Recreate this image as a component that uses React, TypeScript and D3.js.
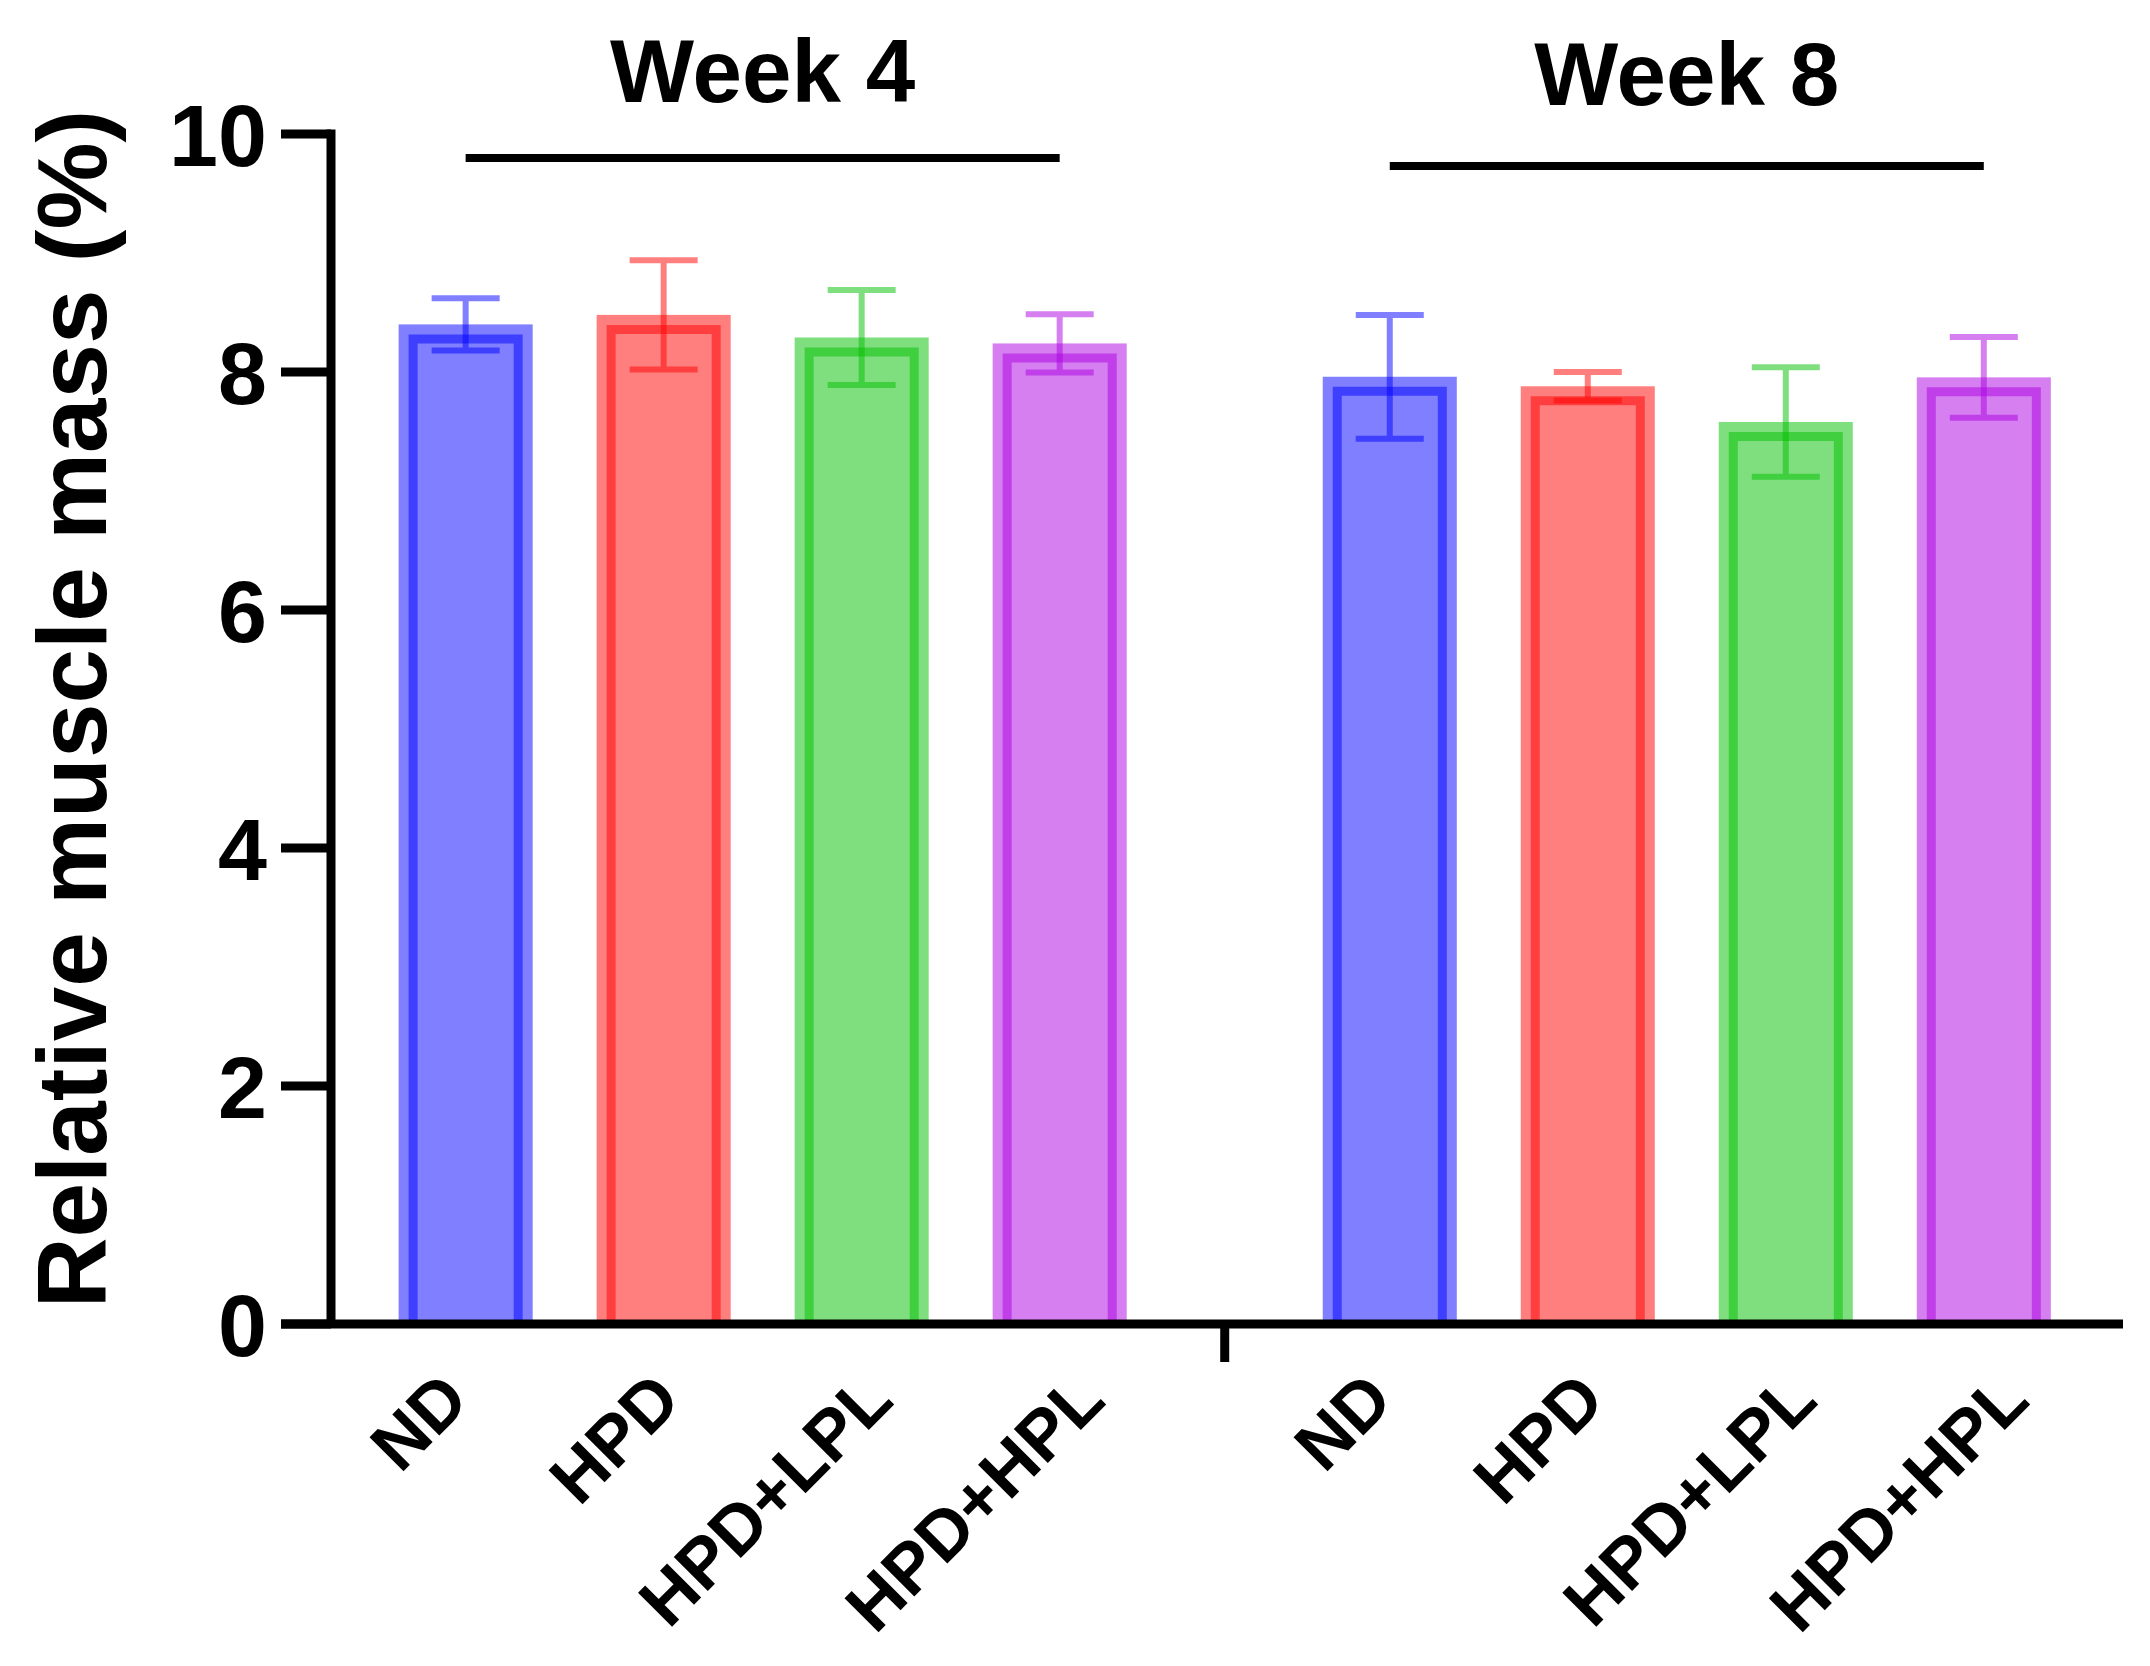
import * as d3 from "d3";
import { useEffect } from "react";

// values
const groups = ["Week 4", "Week 8"];
const categories = ["ND", "HPD", "HPD+LPL", "HPD+HPL"];
const week4Mean = [8.4, 8.48, 8.29, 8.24];
const week4SD = [0.22, 0.46, 0.4, 0.245];
const week8Mean = [7.96, 7.88, 7.58, 7.955];
const week8SD = [0.52, 0.12, 0.46, 0.34];
const yTicks = [0, 2, 4, 6, 8, 10];
const baseColors = ["#0000ff", "#ff0000", "#00c000", "#ab00e1"];

const W = 2150;
const H = 1666;
const FONT = "'Liberation Sans', Arial, Helvetica, sans-serif";

export default function App() {
  useEffect(() => {
    document.body.style.margin = "0";
  }, []);

  const gap = 1.667; // distance (in bar slots) between last bar of week 4 and first of week 8
  const x = d3.scaleLinear().domain([-0.68, 8.37]).range([331, 2123]);
  const y = d3.scaleLinear().domain([0, 10]).range([1324, 134]);

  const slot = x(1) - x(0);
  const barW = slot * 0.677;
  const band = 10; // pale outer band
  const sw = 9; // darker inner border
  const capW = 68;

  const series = [
    { name: groups[0], mean: week4Mean, sd: week4SD, offset: 0, lineY: 158, textY: 102 },
    { name: groups[1], mean: week8Mean, sd: week8SD, offset: 3 + gap, lineY: 166, textY: 105 },
  ];

  const bars = series.flatMap((s) =>
    categories.map((c, j) => ({
      cat: c,
      j,
      pos: s.offset + j,
      mean: s.mean[j],
      sd: s.sd[j],
      color: baseColors[j],
    }))
  );

  const axisLeft = x.range()[0];
  const axisRight = x.range()[1];
  const tickLen = 50;
  const breakX = x(3 + gap / 2);

  return (
    <svg width={W} height={H} viewBox={`0 0 ${W} ${H}`} style={{ display: "block", background: "#fff" }}>
      {/* bars */}
      {bars.map((b, i) => {
        const cx = x(b.pos);
        const x0 = cx - barW / 2;
        const top = y(b.mean);
        const bottom = y(0);
        const inset = band + sw / 2;
        const p = d3.path();
        p.moveTo(x0 + inset, bottom);
        p.lineTo(x0 + inset, top + inset);
        p.lineTo(x0 + barW - inset, top + inset);
        p.lineTo(x0 + barW - inset, bottom);
        return (
          <g key={`bar-${i}`}>
            <rect x={x0} y={top} width={barW} height={bottom - top} fill={b.color} fillOpacity={0.5} />
            <path d={p.toString()} fill="none" stroke={b.color} strokeOpacity={0.5} strokeWidth={sw} />
          </g>
        );
      })}

      {/* error bars */}
      {bars.map((b, i) => {
        const cx = x(b.pos);
        const hi = y(b.mean + b.sd);
        const lo = y(b.mean - b.sd);
        const p = d3.path();
        p.moveTo(cx - capW / 2, hi);
        p.lineTo(cx + capW / 2, hi);
        p.moveTo(cx, hi);
        p.lineTo(cx, lo);
        p.moveTo(cx - capW / 2, lo);
        p.lineTo(cx + capW / 2, lo);
        return (
          <path
            key={`err-${i}`}
            d={p.toString()}
            fill="none"
            stroke={b.color}
            strokeOpacity={0.5}
            strokeWidth={6}
          />
        );
      })}

      {/* y axis */}
      <line x1={axisLeft} x2={axisLeft} y1={y(10) - 4.5} y2={y(0)} stroke="#000" strokeWidth={9} />
      {yTicks.map((t) => (
        <g key={`yt-${t}`}>
          <line x1={axisLeft - tickLen} x2={axisLeft} y1={y(t)} y2={y(t)} stroke="#000" strokeWidth={9} />
          <text
            x={axisLeft - 64}
            y={y(t)}
            dy="0.36em"
            textAnchor="end"
            fontFamily={FONT}
            fontWeight="bold"
            fontSize={88}
            fill="#000"
          >
            {t}
          </text>
        </g>
      ))}

      {/* x axis */}
      <line x1={axisLeft - tickLen} x2={axisRight} y1={y(0)} y2={y(0)} stroke="#000" strokeWidth={9} />
      <line x1={breakX} x2={breakX} y1={y(0)} y2={y(0) + 38} stroke="#000" strokeWidth={9} />

      {/* category labels */}
      {bars.map((b, i) => {
        const ax = x(b.pos) + 6 + 14 * b.j;
        const ay = 1403;
        return (
          <text
            key={`lab-${i}`}
            transform={`translate(${ax},${ay}) rotate(-45)`}
            textAnchor="end"
            fontFamily={FONT}
            fontWeight="bold"
            fontSize={70}
            fill="#000"
          >
            {b.cat}
          </text>
        );
      })}

      {/* group headers */}
      {series.map((s) => {
        const x1 = x(s.offset);
        const x2 = x(s.offset + categories.length - 1);
        return (
          <g key={s.name}>
            <line x1={x1} x2={x2} y1={s.lineY} y2={s.lineY} stroke="#000" strokeWidth={8} />
            <text
              x={(x1 + x2) / 2}
              y={s.textY}
              textAnchor="middle"
              fontFamily={FONT}
              fontWeight="bold"
              fontSize={89}
              fill="#000"
            >
              {s.name}
            </text>
          </g>
        );
      })}

      {/* y axis title */}
      <text
        transform={`translate(106,${(y(0) + y(10)) / 2 - 20}) rotate(-90)`}
        textAnchor="middle"
        fontFamily={FONT}
        fontWeight="bold"
        fontSize={98}
        fill="#000"
      >
        Relative muscle mass (%)
      </text>
    </svg>
  );
}
